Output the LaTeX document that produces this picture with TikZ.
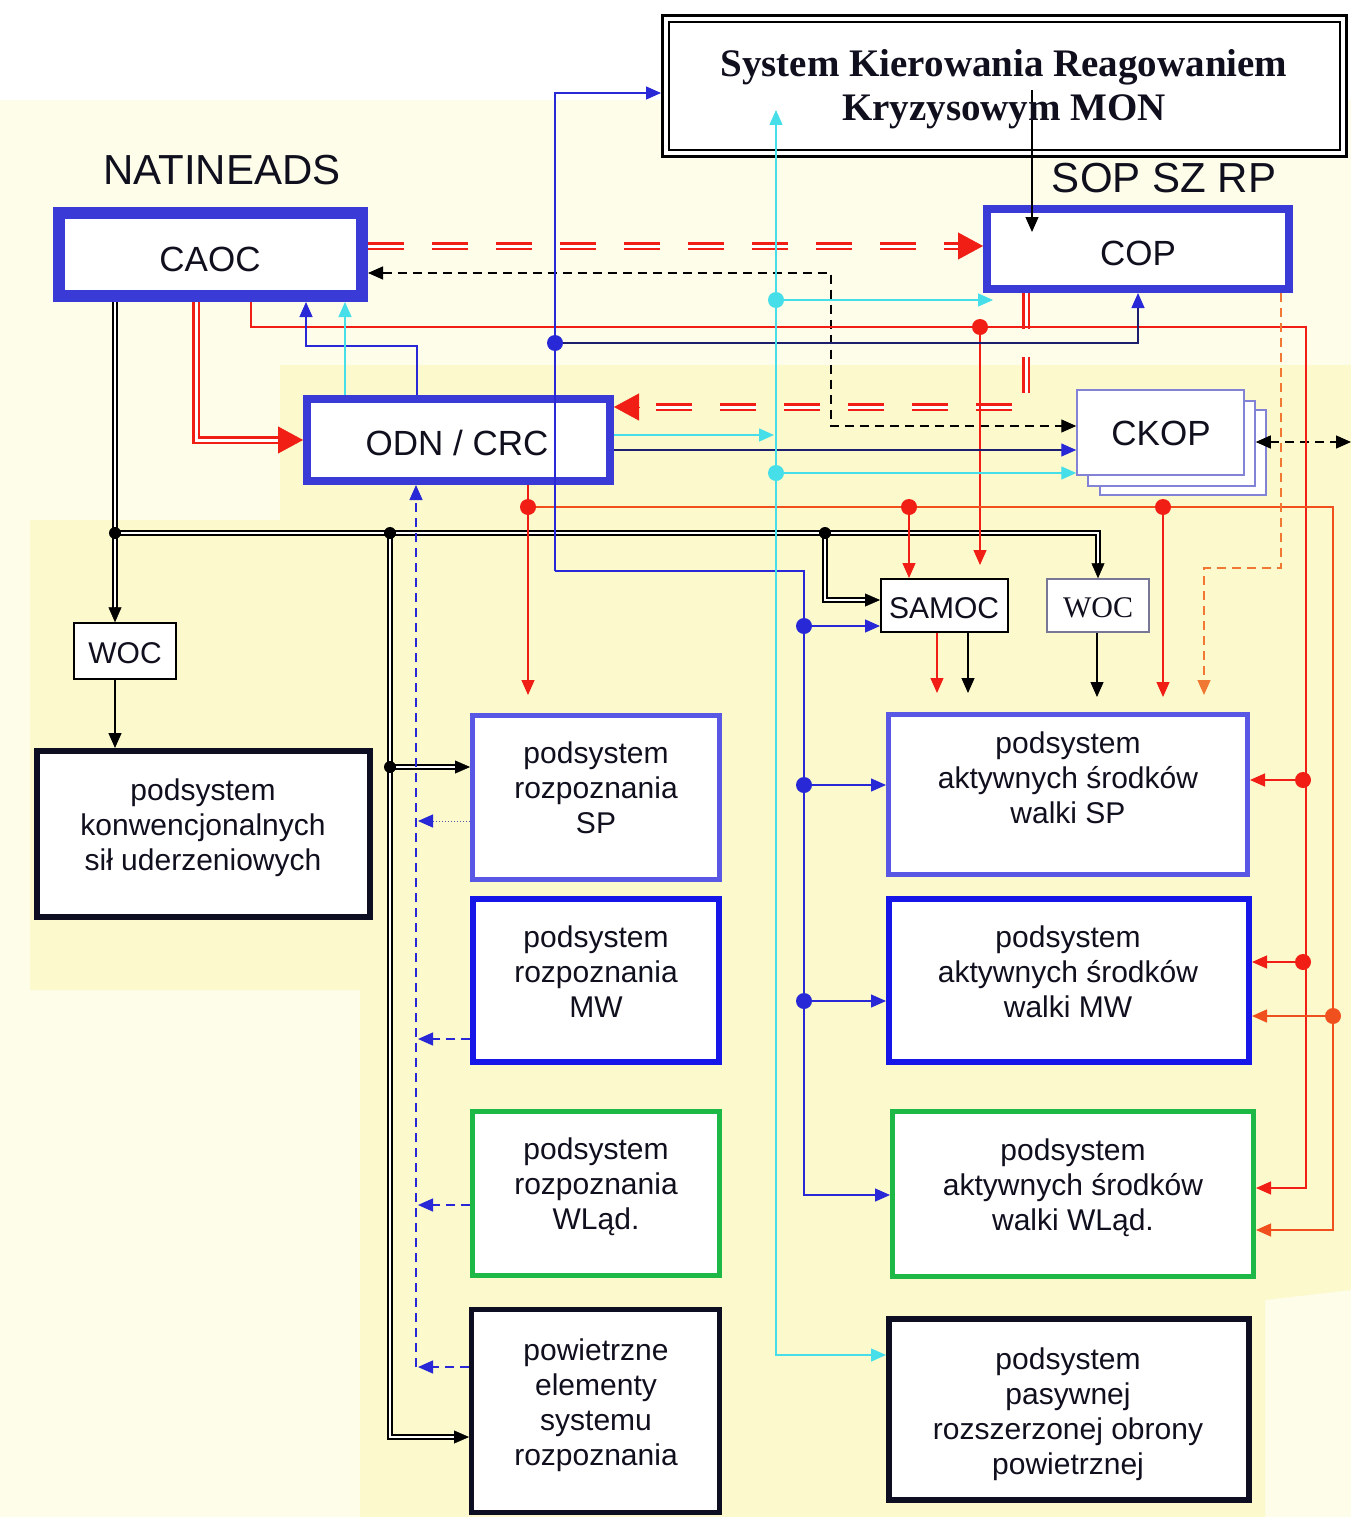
\documentclass[tikz,border=0pt]{standalone}
\usepackage{fontspec}
\setmainfont{Liberation Sans}
\newfontfamily\tnr{Liberation Serif}
\usetikzlibrary{arrows.meta,calc}
\definecolor{bgA}{RGB}{253,253,234}
\definecolor{bgB}{RGB}{252,250,204}
\definecolor{bbox}{RGB}{58,58,214}
\definecolor{lbox}{RGB}{88,88,228}
\definecolor{mbox}{RGB}{22,22,232}
\definecolor{gbox}{RGB}{30,184,70}
\definecolor{kbox}{RGB}{14,14,34}
\definecolor{rd}{RGB}{240,30,20}
\definecolor{ord}{RGB}{240,80,30}
\definecolor{org}{RGB}{240,120,50}
\definecolor{cy}{RGB}{70,222,232}
\definecolor{bl}{RGB}{40,40,215}
\definecolor{nv}{RGB}{30,30,110}
\definecolor{ckb}{RGB}{130,130,215}
\definecolor{wcb}{RGB}{120,120,150}
\definecolor{txtc}{RGB}{15,15,30}
\begin{document}
\begin{tikzpicture}[x=1pt,y=-1pt,
  arr/.style={-{Triangle[length=15pt,width=13pt]}},
  arrc/.style={-{Triangle[length=15pt,width=13pt,color=#1]}},
  arr2/.style={{Triangle[length=15pt,width=13pt]}-{Triangle[length=15pt,width=13pt]}},
  bigarr/.style={-{Triangle[length=25pt,width=27pt]}},
  ln/.style={line width=1.3pt},
  dbl/.style={draw=black, double=white, double distance=2.6pt, line width=1.4pt},
  rdbl/.style={draw=rd, double=white, double distance=3pt, line width=2.2pt},
  rdash/.style={dash pattern=on 36pt off 28pt},
  sdash/.style={dash pattern=on 9pt off 6pt},
  bx/.style={fill=white, inner sep=0pt},
  lbl/.style={font=\fontsize{30}{35}\selectfont, align=center, inner sep=0pt, text=txtc},
  txtm/.style={font=\fontsize{30}{35}\selectfont, inner sep=0pt, text=txtc},
  big/.style={font=\fontsize{35}{40}\selectfont, inner sep=0pt, text=txtc},
  head/.style={font=\fontsize{42}{48}\selectfont, inner sep=0pt, text=txtc},
  jdot/.style={circle, inner sep=0pt, minimum size=16pt},
]
% background
\fill[white] (0,0) rectangle (1351,1517);
\fill[bgA] (0,100) rectangle (1351,1517);
\fill[bgB] (280,365) -- (1351,365) -- (1351,1290) -- (1265,1300) -- (1265,1517) -- (360,1517) -- (360,990) -- (30,990) -- (30,520) -- (280,520) -- cycle;
\useasboundingbox (0,0) rectangle (1351,1517);

% boxes
\node[draw=black, line width=3pt, bx, minimum width=684pt, minimum height=141pt] (ttlo) at (1004.5,86) {};
\node[draw=black, line width=2pt, inner sep=0pt, minimum width=671pt, minimum height=128pt] (ttli) at (1004.5,86) {};
\node[draw=bbox, line width=12pt, bx, minimum width=303pt, minimum height=83pt] (caoc) at (210.5,254.5) {};
\node[draw=bbox, line width=8pt, bx, minimum width=302pt, minimum height=80pt] (cop) at (1138,249) {};
\node[draw=bbox, line width=8pt, bx, minimum width=303pt, minimum height=82pt] (odn) at (458.5,440) {};
\node[draw=ckb, line width=1.5pt, bx, minimum width=166pt, minimum height=85pt] (ckop3) at (1183,452.5) {};
\node[draw=ckb, line width=1.5pt, bx, minimum width=167pt, minimum height=85pt] (ckop2) at (1171.5,443.5) {};
\node[draw=ckb, line width=1.5pt, bx, minimum width=167pt, minimum height=85pt] (ckop) at (1160.5,432.5) {};
\node[draw=black, line width=2pt, bx, minimum width=127pt, minimum height=53pt] (samoc) at (944.5,605.5) {};
\node[draw=wcb, line width=1.5pt, bx, minimum width=102pt, minimum height=53pt] (wocr) at (1098,605.5) {};
\node[draw=black, line width=1.5pt, bx, minimum width=102pt, minimum height=56pt] (wocl) at (125,651) {};
\node[draw=kbox, line width=6pt, bx, minimum width=333pt, minimum height=166pt] (konw) at (203.5,834) {};
\node[draw=lbox, line width=5pt, bx, minimum width=247pt, minimum height=164pt] (rsp) at (596,797.5) {};
\node[draw=mbox, line width=6pt, bx, minimum width=246pt, minimum height=163pt] (rmw) at (596,980.5) {};
\node[draw=gbox, line width=5pt, bx, minimum width=247pt, minimum height=164pt] (rwl) at (596,1193.5) {};
\node[draw=kbox, line width=5pt, bx, minimum width=248pt, minimum height=203pt] (pow) at (595.5,1411) {};
\node[draw=lbox, line width=5pt, bx, minimum width=359pt, minimum height=160pt] (asp) at (1068,794.5) {};
\node[draw=mbox, line width=6pt, bx, minimum width=360pt, minimum height=163pt] (amw) at (1069,980.5) {};
\node[draw=gbox, line width=5pt, bx, minimum width=361pt, minimum height=165pt] (awl) at (1073,1194) {};
\node[draw=kbox, line width=6pt, bx, minimum width=360pt, minimum height=181pt] (pas) at (1069,1409.5) {};

% coordinates
\coordinate (j1) at (115,533);
\coordinate (j2) at (390,533);
\coordinate (j3) at (825,533);
\coordinate (j4) at (390,767);
\coordinate (j5) at (825,600);
\coordinate (pw) at (390,1437);
\coordinate (bA) at (555,93);
\coordinate (bB) at (555,571);
\coordinate (bC) at (804,571);
\coordinate (bD) at (804,1195);
\coordinate (bd1) at (555,343);
\coordinate (bE) at (1138,343);
\coordinate (bd2) at (804,626);
\coordinate (bd3) at (804,785);
\coordinate (bd4) at (804,1001);
\coordinate (n1) at (614,450);
\coordinate (n2) at (417,346);
\coordinate (n3) at (306,346);
\coordinate (v1) at (416,1367);
\coordinate (a1) at (418,821);
\coordinate (a2) at (418,1039);
\coordinate (a3) at (418,1205);
\coordinate (a4) at (418,1367);
\coordinate (cA) at (776,110);
\coordinate (cB) at (776,1355);
\coordinate (cC) at (774,435);
\coordinate (cd1) at (776,300);
\coordinate (cD) at (993,300);
\coordinate (cd2) at (776,473);
\coordinate (cE) at (345,346);
\coordinate (kA) at (1032,90);
\coordinate (kB) at (1032,232);
\coordinate (kC) at (831,273);
\coordinate (kD) at (831,426);
\coordinate (kF) at (1351,442);
\coordinate (sA) at (968,693);
\coordinate (sB) at (937,693);
\coordinate (wA) at (1097,697);
\coordinate (q1) at (251,327);
\coordinate (q2) at (1306,327);
\coordinate (q3) at (1306,1188);
\coordinate (rd1) at (980,327);
\coordinate (q4) at (980,565);
\coordinate (rd2) at (1303,780);
\coordinate (rd3) at (1303,962);
\coordinate (p1) at (528,695);
\coordinate (rd4) at (528,507);
\coordinate (p2) at (1333,507);
\coordinate (p3) at (1333,1230);
\coordinate (rd5) at (909,507);
\coordinate (rd6) at (1163,507);
\coordinate (p4) at (1163,697);
\coordinate (rd7) at (1333,1016);
\coordinate (o1) at (1281,568);
\coordinate (o2) at (1204,568);
\coordinate (o3) at (1204,695);
\coordinate (r1) at (196,440);
\coordinate (r2) at (370,246);
\coordinate (r3) at (1026,407);

% black double bus
\draw[dbl] (caoc.south -| j1) -- (j1) -- (j1 -| wocr.north) -- ($(wocr.north)+(0,-13)$);
\draw[arr] ($(wocr.north)+(0,-15)$) -- (wocr.north);
\draw[dbl] (j1) -- ($(j1 |- wocl.north)+(0,-13)$);
\draw[arr] ($(j1 |- wocl.north)+(0,-15)$) -- (j1 |- wocl.north);
\draw[dbl] (j2) -- (pw) -- ($(pow.west |- pw)+(-13,0)$);
\draw[arr] ($(pow.west |- pw)+(-15,0)$) -- (pow.west |- pw);
\draw[dbl] (j4) -- ($(rsp.west |- j4)+(-13,0)$);
\draw[arr] ($(rsp.west |- j4)+(-15,0)$) -- (rsp.west |- j4);
\draw[dbl] (j3) -- (j5) -- ($(samoc.west |- j5)+(-13,0)$);
\draw[arr] ($(samoc.west |- j5)+(-15,0)$) -- (samoc.west |- j5);

% black single
\draw[ln, arr] (wocl.south -| j1) -- (konw.north -| j1);
\draw[ln, arr] (samoc.south -| sA) -- (sA);
\draw[ln, arr] (wocr.south -| wA) -- (wA);
\draw[ln, sdash, arr2] (caoc.east |- kC) -- (kC) -- (kD) -- (ckop.west |- kD);
\draw[ln, sdash, arr2] (ckop2.east |- kF) -- (kF);

% red double
\draw[rdbl] (caoc.south -| r1) -- (r1) -- ($(odn.west |- r1)+(-20,0)$);
\draw[rd, bigarr] ($(odn.west |- r1)+(-25,0)$) -- (odn.west |- r1);
\draw[rdbl, rdash] (caoc.east |- r2) -- ($(cop.west |- r2)+(-20,0)$);
\draw[rd, bigarr] ($(cop.west |- r2)+(-25,0)$) -- (cop.west |- r2);
\draw[rdbl, rdash] (cop.south -| r3) -- (r3) -- ($(odn.east |- r3)+(20,0)$);
\draw[rd, bigarr] ($(odn.east |- r3)+(25,0)$) -- (odn.east |- r3);

% red thin
\draw[rd, ln, arr] (caoc.south -| q1) -- (q1) -- (q2) -- (q3) -- (awl.east |- q3);
\draw[rd, ln, arr] (rd1) -- (q4);
\draw[rd, ln, arr] (rd2) -- (asp.east |- rd2);
\draw[rd, ln, arr] (rd3) -- (amw.east |- rd3);
\draw[rd, ln, arr] (odn.south -| p1) -- (p1);
\draw[ord, ln, arr] (rd4) -- (p2) -- (p3) -- (awl.east |- p3);
\draw[rd, ln, arr] (rd5) -- (samoc.north -| rd5);
\draw[rd, ln, arr] (rd6) -- (p4);
\draw[ord, ln, arr] (rd7) -- (amw.east |- rd7);
\draw[rd, ln, arr] (samoc.south -| sB) -- (sB);
\draw[org, ln, sdash, arr] (cop.south -| o1) -- (o1) -- (o2) -- (o3);

% blue
\draw[bl, ln, arr] (bB) -- (bA) -- (ttlo.west |- bA);
\draw[bl, ln, arr] (bB) -- (bC) -- (bD) -- (awl.west |- bD);
\draw[nv, ln, arrc=bl] (bd1) -- (bE) -- (cop.south -| bE);
\draw[bl, ln, arr] (bd2) -- (samoc.west |- bd2);
\draw[bl, ln, arr] (bd3) -- (asp.west |- bd3);
\draw[bl, ln, arr] (bd4) -- (amw.west |- bd4);
\draw[nv, ln, arrc=bl] (odn.east |- n1) -- (ckop.west |- n1);
\draw[bl, ln, arr] (odn.north -| n2) -- (n2) -- (n3) -- (caoc.south -| n3);
\draw[bl, ln, sdash, arr] (v1) -- (odn.south -| v1);
\draw[bl!50!gray, line width=1pt, dotted, arrc=bl] (rsp.west |- a1) -- (a1);
\draw[bl, ln, sdash, arr] (rmw.west |- a2) -- (a2);
\draw[bl, ln, sdash, arr] (rwl.west |- a3) -- (a3);
\draw[bl, ln, sdash, arr] (pow.west |- a4) -- (a4);

% cyan
\draw[cy, ln, arr2] (cA) -- (cB) -- (pas.west |- cB);
\draw[cy, ln, arr] (odn.east |- cC) -- (cC);
\draw[cy, ln, arr] (cd1) -- (cD);
\draw[cy, ln, arr] (cd2) -- (ckop.west |- cd2);
\draw[cy, ln, arr] (odn.north -| cE) -- (caoc.south -| cE);

% black from title to COP
\draw[ln, arr] (kA) -- (kB);

% junction dots
\node[jdot, fill=black, minimum size=12pt] (K1) at (j1) {};
\node[jdot, fill=black, minimum size=12pt] (K2) at (j2) {};
\node[jdot, fill=black, minimum size=12pt] (K3) at (j3) {};
\node[jdot, fill=black, minimum size=12pt] (K4) at (j4) {};
\node[jdot, fill=bl] (B1) at (bd1) {};
\node[jdot, fill=bl] (B2) at (bd2) {};
\node[jdot, fill=bl] (B3) at (bd3) {};
\node[jdot, fill=bl] (B4) at (bd4) {};
\node[jdot, fill=cy] (C1) at (cd1) {};
\node[jdot, fill=cy] (C2) at (cd2) {};
\node[jdot, fill=rd] (R1) at (rd1) {};
\node[jdot, fill=rd] (R2) at (rd2) {};
\node[jdot, fill=rd] (R3) at (rd3) {};
\node[jdot, fill=rd] (R4) at (rd4) {};
\node[jdot, fill=rd] (R5) at (rd5) {};
\node[jdot, fill=rd] (R6) at (rd6) {};
\node[jdot, fill=ord] (R7) at (rd7) {};

% texts
\node[font=\tnr\bfseries\fontsize{39}{44}\selectfont, align=center, inner sep=0pt, text=txtc] (ttl) at (1004,89) {System Kierowania Reagowaniem\\Kryzysowym MON};
\node[head] (tnat) at (222,170) {NATINEADS};
\node[head] (tsop) at (1164,178) {SOP SZ RP};
\node[big] (tcaoc) at (210,259) {CAOC};
\node[big] (tcop) at (1138,253) {COP};
\node[big] (todn) at (457,443) {ODN / CRC};
\node[big] (tckop) at (1161,433) {CKOP};
\node[txtm] (tsamoc) at (944,608) {SAMOC};
\node[txtm, font=\tnr\fontsize{30}{35}\selectfont] (twocr) at (1098,608) {WOC};
\node[txtm] (twocl) at (125,653) {WOC};
\node[lbl] (tkonw) at (203,828) {podsystem\\konwencjonalnych\\sił uderzeniowych};
\node[lbl] (trsp) at (596,788) {podsystem\\rozpoznania\\SP};
\node[lbl] (trmw) at (596,972) {podsystem\\rozpoznania\\MW};
\node[lbl] (trwl) at (596,1187) {podsystem\\rozpoznania\\WLąd.};
\node[lbl] (tpow) at (596,1405) {powietrzne\\elementy\\systemu\\rozpoznania};
\node[lbl] (tasp) at (1068,778) {podsystem\\aktywnych środków\\walki SP};
\node[lbl] (tamw) at (1068,972) {podsystem\\aktywnych środków\\walki MW};
\node[lbl] (tawl) at (1073,1188) {podsystem\\aktywnych środków\\walki WLąd.};
\node[lbl] (tpas) at (1068,1414) {podsystem\\pasywnej\\rozszerzonej obrony\\powietrznej};
\end{tikzpicture}
\end{document}
